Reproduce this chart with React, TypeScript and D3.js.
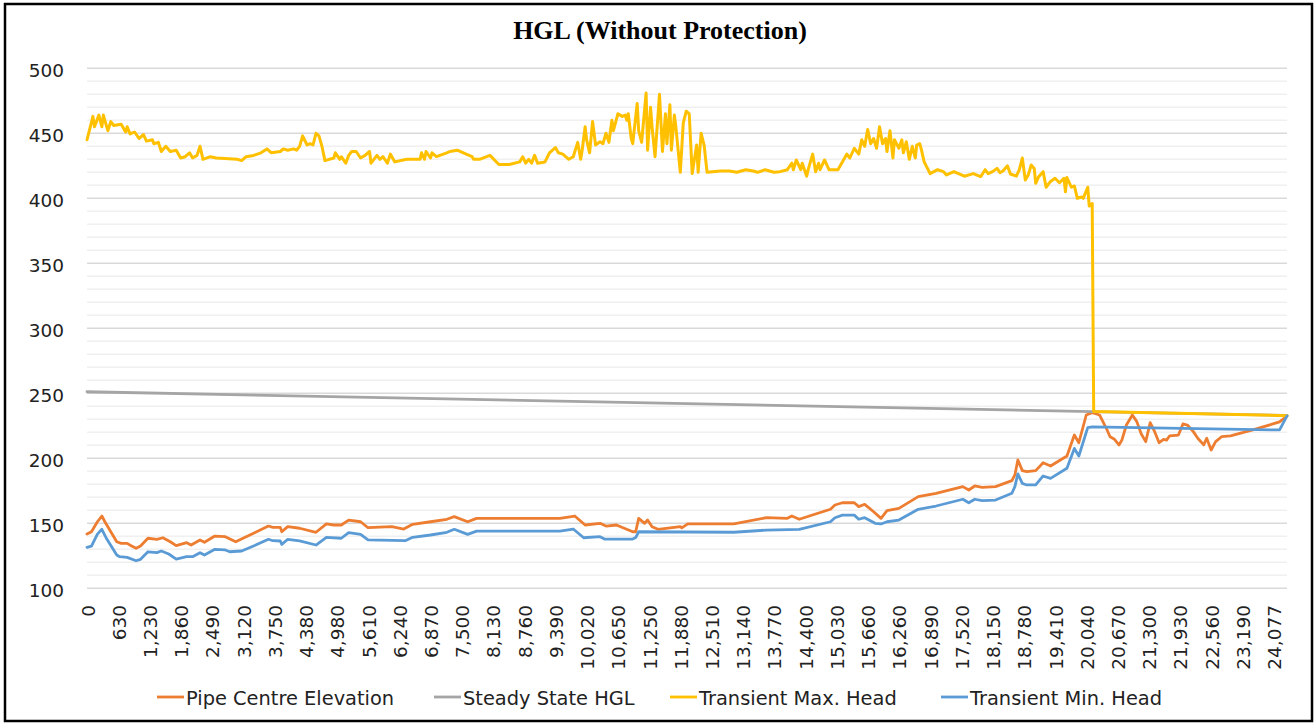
import React from "react";
import * as d3 from "d3";

// category labels on the x axis (chainage, m) - one label every 21 points
const xTickLabels = [
  "0", "630", "1,230", "1,860", "2,490", "3,120", "3,750", "4,380", "4,980", "5,610",
  "6,240", "6,870", "7,500", "8,130", "8,760", "9,390", "10,020", "10,650", "11,250", "11,880",
  "12,510", "13,140", "13,770", "14,400", "15,030", "15,660", "16,260", "16,890", "17,520", "18,150",
  "18,780", "19,410", "20,040", "20,670", "21,300", "21,930", "22,560", "23,190", "24,077",
];
const labelEvery = 21;
const pointCount = 808;
const yTicks = [100, 150, 200, 250, 300, 350, 400, 450, 500];

// [point index, head (m)]
const pipeElevation: [number, number][] = [
  [0, 141.7], [3, 143.5], [7, 151.2], [10, 155.6], [12, 151.2], [20, 135.8], [23, 134.6], [27, 134.6],
  [30, 132.5], [33, 130.8], [36, 132.5], [41, 138.5], [47, 137.7], [51, 138.9], [56, 135.8], [60, 132.8],
  [67, 135.1], [70, 133.3], [76, 137.2], [79, 135.4], [86, 140.2], [93, 139.7], [100, 135.8], [112, 142.3],
  [122, 147.9], [125, 146.9], [130, 146.9], [131, 143.5], [135, 147.4], [143, 146.2], [154, 143.1],
  [161, 149.5], [166, 148.7], [171, 148.7], [176, 152.5], [184, 151.2], [189, 146.6], [205, 147.4],
  [213, 145.6], [219, 149.2], [231, 151.2], [242, 153.1], [247, 155.1], [256, 151.2], [262, 153.8],
  [318, 153.8], [328, 155.6], [335, 148.7], [345, 150], [349, 147.9], [356, 148.7], [367, 143.5],
  [369, 143.5], [371, 153.8], [375, 150], [377, 152.5], [380, 147.4], [384, 145.4], [399, 147.4],
  [400, 146.5], [404, 149.5], [435, 149.5], [457, 154.4], [471, 153.8], [474, 155.6], [479, 153.1],
  [500, 160.8], [503, 164.1], [508, 165.8], [516, 165.8], [519, 162.8], [523, 164.6], [529, 158.9],
  [534, 153.8], [538, 159.7], [546, 161.5], [559, 170.5], [571, 173.1], [589, 178.2], [593, 175.6],
  [597, 178.7], [602, 177.7], [611, 178.2], [622, 182.8], [624, 187.2], [626, 198.7], [629, 190.5],
  [632, 189.7], [638, 190.5], [643, 196.6], [648, 194.1], [659, 201.8], [664, 217.9], [667, 212],
  [672, 233.3], [676, 235.1], [681, 233.3], [686, 221.8], [688, 216.6], [691, 214.6], [694, 210.3],
  [696, 214.1], [699, 225.6], [703, 233.3], [706, 228.2], [709, 218.7], [712, 212.8], [715, 227.4],
  [718, 220.5], [721, 212], [724, 214.6], [726, 214], [728, 217.2], [734, 217.9], [737, 226.4],
  [740, 225.6], [744, 220.5], [747, 215.4], [751, 210.3], [753, 215.4], [756, 206.4], [759, 212.8],
  [763, 216.6], [769, 217.2], [784, 221.8], [802, 228], [807, 232.5],
];

const steadyHgl: [number, number][] = [[0, 251.2], [807, 233]];

const maxHead: [number, number][] = [
  [0, 445], [4, 463], [5, 455], [8, 464], [10, 455], [11, 464], [14, 452], [16, 459], [18, 456],
  [23, 457], [26, 451], [27, 455], [29, 449.5], [32, 451], [35, 446], [38, 449], [40, 444], [44, 445],
  [45, 442], [48, 443], [50, 436], [53, 440], [56, 436], [60, 437], [63, 431], [66, 432], [69, 435],
  [71, 431], [74, 433], [76, 440], [78, 430], [83, 432], [87, 431], [101, 430], [104, 429], [107, 432],
  [112, 433], [117, 435], [121, 438], [124, 435], [130, 436], [132, 438], [135, 437], [139, 438],
  [141, 437], [143, 440], [145, 448], [148, 441], [150, 442], [152, 441], [154, 450], [156, 448],
  [158, 440], [160, 429], [166, 431], [167, 435], [170, 430], [171, 432], [174, 427], [176, 433],
  [178, 436], [181, 436], [184, 431], [187, 433], [190, 436], [191, 427], [195, 433], [197, 430],
  [199, 432], [202, 427], [204, 434], [207, 428], [215, 430], [224, 430], [225, 435], [227, 430],
  [228, 436], [231, 431], [232, 435], [235, 432], [242, 435], [244, 436], [249, 437], [255, 434],
  [259, 432], [260, 430], [264, 430], [271, 433], [277, 426], [284, 426], [291, 428], [293, 432],
  [295, 427], [297, 430], [299, 427], [301, 433], [303, 427], [308, 428], [311, 435], [315, 439],
  [317, 435], [320, 434], [324, 430], [327, 432], [330, 443], [332, 430], [333, 437], [335, 455],
  [336, 445], [338, 435], [340, 459], [342, 441], [345, 443.5], [347, 442], [349, 450], [351, 443],
  [353, 460], [354, 452], [357, 465], [360, 463], [362, 464], [363, 460], [364, 465], [366, 446],
  [367, 442], [370, 473], [371, 452], [373, 443], [376, 481], [377, 437], [379, 470], [380, 455],
  [382, 432], [385, 480], [387, 436], [389, 465], [390, 442], [392, 472], [393, 437], [395, 464],
  [396, 455], [399, 420], [401, 458], [403, 467], [405, 465], [407, 419], [410, 441], [411, 420],
  [413, 450], [415, 441], [417, 420], [426, 421], [432, 421], [437, 420], [443, 422], [448, 421],
  [451, 420], [456, 422], [462, 420], [466, 420.5], [471, 422], [474, 427], [475, 422], [477, 429.5],
  [480, 422], [481, 427], [484, 417], [485, 422], [488, 434], [490, 420.5], [492, 427], [493, 422],
  [496, 429.5], [499, 422], [505, 422], [508, 428], [511, 434], [513, 431], [516, 438.5], [519, 434],
  [521, 445], [523, 440], [525, 453], [527, 442], [529, 446], [531, 438.5], [533, 455], [535, 442],
  [537, 446], [538, 436], [540, 452], [542, 431], [543, 445], [546, 438.5], [548, 445], [549, 435],
  [551, 443.5], [553, 430], [555, 440], [557, 431], [558, 441], [560, 442], [561, 438], [563, 428],
  [567, 419], [572, 422], [576, 420.5], [578, 418], [583, 420.5], [590, 417], [596, 419], [601, 416.6],
  [604, 422], [606, 419], [609, 420.5], [612, 423], [614, 419.7], [616, 421], [619, 425], [621, 418.7],
  [625, 417], [627, 422], [629, 431], [631, 414], [633, 418], [635, 425.6], [637, 423], [638, 411.5],
  [640, 416.6], [643, 420.5], [645, 408.5], [648, 413], [651, 415.4], [654, 412], [657, 415.4],
  [658, 405], [659, 416], [662, 408.5], [664, 409.5], [666, 400], [669, 401], [670, 400], [673, 408.5],
  [674, 394], [676, 396], [677, 236], [807, 232.8],
];

const minHead: [number, number][] = [
  [0, 131.5], [3, 132.5], [7, 141.7], [10, 145.4], [13, 138.5], [20, 125.6], [22, 124.3], [27, 123.8],
  [33, 121.2], [36, 122.3], [41, 128.1], [47, 127.4], [50, 128.7], [55, 126.4], [60, 122.5], [67, 124.3],
  [71, 124.3], [76, 127.4], [79, 125.6], [86, 130], [93, 129.5], [96, 128.1], [104, 128.7], [112, 132.5],
  [122, 137.7], [125, 136.6], [130, 136.4], [131, 133.8], [135, 137.7], [143, 136.4], [154, 133.3],
  [161, 139.2], [171, 138.5], [176, 142.8], [184, 141.5], [189, 137.2], [214, 136.6], [219, 139.2],
  [231, 141], [242, 143.1], [247, 145.4], [256, 141.5], [262, 144], [318, 144], [327, 145.6],
  [334, 138.9], [345, 139.7], [348, 137.9], [367, 137.9], [369, 139], [371, 143.5], [435, 143.1],
  [457, 144.8], [479, 145.4], [500, 151.2], [503, 154.3], [508, 156.3], [516, 156.3], [519, 153.1],
  [523, 154.3], [530, 150], [534, 149.5], [538, 151.2], [546, 152.5], [559, 160.8], [571, 163.3],
  [589, 168.5], [593, 165.8], [597, 168.5], [602, 167.4], [611, 167.9], [622, 173.1], [624, 178.2],
  [626, 188], [629, 180.7], [632, 179.5], [638, 179.5], [643, 186.4], [648, 184.6], [659, 192.3],
  [664, 207.6], [667, 201.8], [673, 223.6], [676, 224.1], [802, 221.8], [807, 232.6],
];

const seriesNames = ["Pipe Centre Elevation", "Steady State HGL", "Transient Max. Head", "Transient Min. Head"];
const seriesColors = ["#ED7D31", "#A5A5A5", "#FFC000", "#5B9BD5"];
const seriesData = [pipeElevation, steadyHgl, maxHead, minHead];

const W = 1316;
const H = 724;
const sans = "'DejaVu Sans', sans-serif";

const App = () => {
  const x = d3.scaleLinear().domain([0, pointCount - 1]).range([87, 1287]);
  const y = d3.scaleLinear().domain([100, 500]).range([588.3, 68.3]);
  const line = d3
    .line<[number, number]>()
    .x((d) => x(d[0]))
    .y((d) => y(d[1]));

  const minorTicks = d3.range(100, 501, 10).filter((v) => v % 50 !== 0);
  // legend x positions, matched to the reference
  const legendX = [157, 434, 670, 941];

  return (
    <svg
      width={W}
      height={H}
      style={{ position: "absolute", left: 0, top: 0, display: "block", background: "#fff" }}
    >
      <rect x={5} y={4} width={1307} height={717} fill="#fff" stroke="#000" strokeWidth={2.5} />

      <text x={660} y={39} textAnchor="middle" fontFamily="'Liberation Serif', 'Times New Roman', serif"
        fontWeight="bold" fontSize={26} fill="#000">
        HGL (Without Protection)
      </text>

      {/* gridlines */}
      {minorTicks.map((v) => (
        <line key={"m" + v} x1={x(0)} x2={x(pointCount - 1)} y1={y(v)} y2={y(v)} stroke="#f0f0f0" strokeWidth={1.5} />
      ))}
      {yTicks.map((v) => (
        <line key={"M" + v} x1={x(0)} x2={x(pointCount - 1)} y1={y(v)} y2={y(v)} stroke="#d9d9d9" strokeWidth={1.5} />
      ))}

      {/* y labels */}
      {yTicks.map((v) => (
        <text key={"yl" + v} x={64} y={y(v) + 8.3} textAnchor="end" fontFamily={sans} fontSize={18.5} fill="#222">
          {v}
        </text>
      ))}

      {/* x labels */}
      {xTickLabels.map((lab, i) => (
        <text
          key={"xl" + i}
          transform={`translate(${x(i * labelEvery)},605) rotate(-90)`}
          dy={7.5}
          textAnchor="end"
          fontFamily={sans}
          fontSize={18.5}
          fill="#222"
        >
          {lab}
        </text>
      ))}

      {/* series */}
      {seriesData.map((s, i) => (
        <path
          key={"s" + i}
          d={line(s) || ""}
          fill="none"
          stroke={seriesColors[i]}
          strokeWidth={i === 2 ? 3 : 2.8}
          strokeLinejoin="round"
          strokeLinecap="round"
        />
      ))}

      {/* legend */}
      {seriesNames.map((name, i) => (
        <g key={"lg" + i} transform={`translate(${legendX[i]},697)`}>
          <line x1={0} x2={27} y1={0} y2={0} stroke={seriesColors[i]} strokeWidth={2.8} />
          <text x={29} y={7.5} fontFamily={sans} fontSize={19.4} fill="#222">
            {name}
          </text>
        </g>
      ))}
    </svg>
  );
};

export default App;
